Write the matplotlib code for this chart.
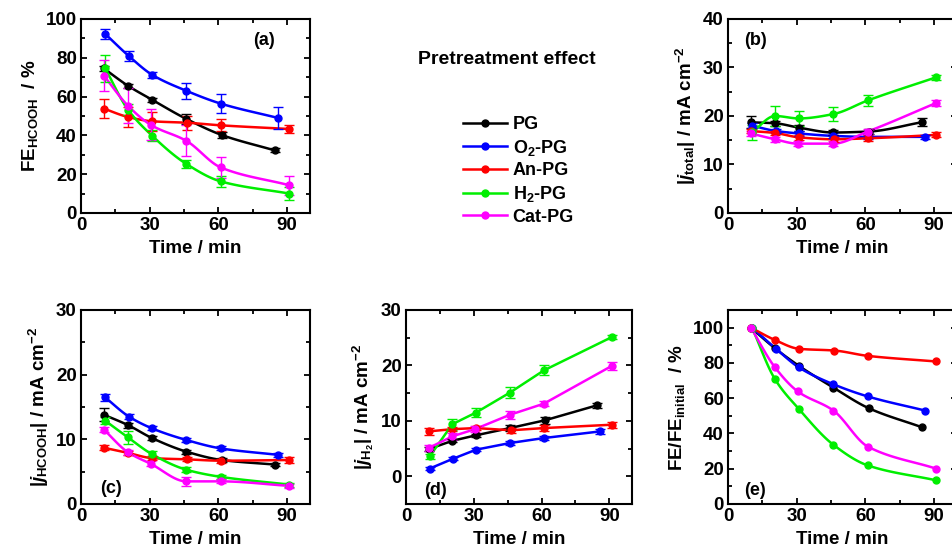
import numpy as np
import matplotlib
matplotlib.use("Agg")
import matplotlib.pyplot as plt
from matplotlib.lines import Line2D
from matplotlib.ticker import MultipleLocator

plt.rcParams['font.family'] = ['Liberation Sans', 'DejaVu Sans']
plt.rcParams['font.weight'] = 'bold'
plt.rcParams['mathtext.fontset'] = 'custom'
plt.rcParams['mathtext.rm'] = 'Liberation Sans:bold'
plt.rcParams['mathtext.bf'] = 'Liberation Sans:bold'
plt.rcParams['mathtext.it'] = 'Liberation Sans:bold:italic'
plt.rcParams['axes.linewidth'] = 1.5

# ---------------- data ----------------
labels = ['PG', 'O$_2$-PG', 'An-PG', 'H$_2$-PG', 'Cat-PG']
colors = ['#000000', '#0000FF', '#FF0000', '#00EE00', '#FF00FF']

t_PG = [10, 20.5, 31, 46, 61.5, 84.5]
t_O2 = [10.5, 21, 31, 46, 61, 86]
t_An = [10, 20.5, 31, 46.5, 61, 91]
t_H2 = [10.5, 20.5, 31, 46, 61, 91]
t_Cat = [10, 20.5, 30.5, 46, 61, 91]
times = [t_PG, t_O2, t_An, t_H2, t_Cat]

# (a) FE_HCOOH / %
fe_PG = [74.5, 65.6, 58.4, 48.5, 40.2, 32.3]
fe_O2 = [92.4, 80.8, 71.3, 63.0, 56.4, 49.0]
fe_An = [53.8, 49.5, 47.3, 46.5, 45.2, 43.3]
fe_H2 = [74.7, 53.3, 39.9, 25.3, 16.3, 10.0]
fe_Cat = [70.8, 55.3, 45.4, 37.2, 23.5, 14.3]
fe_err_PG = [1.5, 1.0, 1.0, 2.5, 1.5, 1.0]
fe_err_O2 = [2.5, 2.5, 1.5, 4.0, 5.0, 5.5]
fe_err_An = [5.0, 5.0, 5.0, 3.5, 3.0, 2.0]
fe_err_H2 = [7.0, 3.0, 3.0, 2.0, 3.0, 3.5]
fe_err_Cat = [8.0, 9.0, 8.0, 8.0, 5.5, 5.0]

# (b) |j_total| / mA cm-2
jt_PG = [18.7, 18.5, 17.6, 16.6, 16.8, 18.7]
jt_O2 = [18.0, 16.9, 16.4, 15.9, 15.7, 15.7]
jt_An = [16.9, 16.5, 15.6, 15.2, 15.4, 16.1]
jt_H2 = [16.6, 20.0, 19.5, 20.4, 23.2, 28.0]
jt_Cat = [16.4, 15.2, 14.3, 14.3, 16.8, 22.7]
jt_err_PG = [1.2, 0.5, 0.6, 0.5, 0.5, 0.8]
jt_err_O2 = [0.5, 0.5, 0.5, 0.5, 0.5, 0.4]
jt_err_An = [0.5, 0.5, 0.5, 0.5, 0.6, 0.5]
jt_err_H2 = [1.5, 2.0, 1.5, 1.4, 1.2, 0.5]
jt_err_Cat = [0.6, 0.5, 0.5, 0.5, 0.5, 0.7]

# (c) |j_HCOOH| / mA cm-2
jf_PG = [13.8, 12.2, 10.2, 8.1, 6.8, 6.1]
jf_O2 = [16.5, 13.5, 11.7, 9.9, 8.6, 7.6]
jf_An = [8.7, 7.9, 7.1, 6.9, 6.7, 6.8]
jf_H2 = [12.9, 10.3, 7.7, 5.3, 4.2, 3.0]
jf_Cat = [11.5, 8.0, 6.2, 3.5, 3.5, 2.8]
jf_err_PG = [1.0, 0.4, 0.3, 0.3, 0.3, 0.3]
jf_err_O2 = [0.5, 0.4, 0.3, 0.3, 0.3, 0.3]
jf_err_An = [0.4, 0.3, 0.3, 0.3, 0.3, 0.4]
jf_err_H2 = [0.6, 1.0, 0.5, 0.4, 0.3, 0.3]
jf_err_Cat = [0.4, 0.4, 0.4, 0.7, 0.3, 0.3]

# (d) |j_H2| / mA cm-2
jh_PG = [4.9, 6.4, 7.4, 8.7, 10.1, 12.8]
jh_O2 = [1.4, 3.2, 4.8, 6.0, 6.9, 8.1]
jh_An = [8.1, 8.5, 8.7, 8.3, 8.7, 9.3]
jh_H2 = [3.6, 9.4, 11.5, 15.1, 19.1, 25.1]
jh_Cat = [5.1, 7.2, 8.5, 11.1, 13.1, 19.9]
jh_err_PG = [0.4, 0.3, 0.3, 0.5, 0.6, 0.5]
jh_err_O2 = [0.3, 0.3, 0.3, 0.3, 0.3, 0.4]
jh_err_An = [0.6, 0.4, 0.4, 0.5, 0.5, 0.5]
jh_err_H2 = [0.5, 1.0, 0.8, 1.0, 0.9, 0.4]
jh_err_Cat = [0.5, 0.6, 0.5, 0.7, 0.5, 0.8]

# (e) FE/FE_initial / %
fr_PG = [100, 88.3, 78.3, 66.0, 54.3, 43.6]
fr_O2 = [100, 88.0, 77.4, 67.9, 61.0, 53.0]
fr_An = [100, 93.0, 88.0, 87.0, 84.0, 80.8]
fr_H2 = [100, 70.8, 53.8, 33.6, 21.9, 13.4]
fr_Cat = [100, 77.5, 63.8, 53.0, 32.6, 20.0]


def smooth_line(x, y, n=120):
    """Shape-preserving (PCHIP) curve through the data points, for line rendering."""
    x = np.asarray(x, float)
    y = np.asarray(y, float)
    h = np.diff(x)
    d = np.diff(y) / h
    m = np.zeros_like(y)
    for k in range(1, len(x) - 1):
        if d[k - 1] * d[k] > 0:
            w1 = 2 * h[k] + h[k - 1]
            w2 = h[k] + 2 * h[k - 1]
            m[k] = (w1 + w2) / (w1 / d[k - 1] + w2 / d[k])
    m[0] = d[0]
    m[-1] = d[-1]
    xs = np.linspace(x[0], x[-1], n)
    idx = np.clip(np.searchsorted(x, xs) - 1, 0, len(x) - 2)
    hk = h[idx]
    t = (xs - x[idx]) / hk
    h00 = 2 * t**3 - 3 * t**2 + 1
    h10 = t**3 - 2 * t**2 + t
    h01 = -2 * t**3 + 3 * t**2
    h11 = t**3 - t**2
    ys = h00 * y[idx] + h10 * hk * m[idx] + h01 * y[idx + 1] + h11 * hk * m[idx + 1]
    return xs, ys


fig = plt.figure(figsize=(9.53, 5.59), dpi=100)

axw = 229 / 953
axh = 194 / 559
ax_a = fig.add_axes([81 / 953, 1 - 213 / 559, axw, axh])
ax_b = fig.add_axes([728 / 953, 1 - 213 / 559, axw, axh])
ax_c = fig.add_axes([81 / 953, 1 - 504 / 559, axw, axh])
ax_d = fig.add_axes([406 / 953, 1 - 504 / 559, 226 / 953, axh])
ax_e = fig.add_axes([728 / 953, 1 - 504 / 559, axw, axh])

panels = [
    (ax_a, [fe_PG, fe_O2, fe_An, fe_H2, fe_Cat],
     [fe_err_PG, fe_err_O2, fe_err_An, fe_err_H2, fe_err_Cat], True,
     (0, 100), 20, 10, r'FE$_{\rm HCOOH}$  / %', '(a)', (0.80, 0.89)),
    (ax_b, [jt_PG, jt_O2, jt_An, jt_H2, jt_Cat],
     [jt_err_PG, jt_err_O2, jt_err_An, jt_err_H2, jt_err_Cat], True,
     (0, 40), 10, 5, r'|$j_{\rm total}$| / mA cm$^{-2}$', '(b)', (0.12, 0.89)),
    (ax_c, [jf_PG, jf_O2, jf_An, jf_H2, jf_Cat],
     [jf_err_PG, jf_err_O2, jf_err_An, jf_err_H2, jf_err_Cat], True,
     (0, 30), 10, 5, r'|$j_{\rm HCOOH}$| / mA cm$^{-2}$', '(c)', (0.13, 0.08)),
    (ax_d, [jh_PG, jh_O2, jh_An, jh_H2, jh_Cat],
     [jh_err_PG, jh_err_O2, jh_err_An, jh_err_H2, jh_err_Cat], False,
     (-5, 30), 10, 5, r'|$j_{\rm H_2}$| / mA cm$^{-2}$', '(d)', (0.13, 0.07)),
    (ax_e, [fr_PG, fr_O2, fr_An, fr_H2, fr_Cat],
     None, True,
     (0, 110), 20, 10, r'FE/FE$_{\rm initial}$  / %', '(e)', (0.12, 0.07)),
]

for ax, ys, errs, smooth, ylim, ymaj, ymin, ylab, tag, tagpos in panels:
    for i in range(5):
        t = times[i]
        y = ys[i]
        c = colors[i]
        if smooth:
            xs, yy = smooth_line(t, y)
        else:
            xs, yy = t, y
        ax.plot(xs, yy, color=c, lw=1.8, zorder=2)
        if errs is not None:
            ax.errorbar(t, y, yerr=errs[i], fmt='none', ecolor=c, elinewidth=1.0,
                        capsize=3.5, capthick=1.0, zorder=3)
        ax.plot(t, y, 'o', color=c, ms=5, mec=c, zorder=4)
    ax.set_xlim(0, 100)
    ax.set_ylim(*ylim)
    ax.xaxis.set_major_locator(MultipleLocator(30))
    ax.xaxis.set_minor_locator(MultipleLocator(15))
    ax.yaxis.set_major_locator(MultipleLocator(ymaj))
    ax.yaxis.set_minor_locator(MultipleLocator(ymin))
    ax.tick_params(which='both', direction='in', top=True, right=True, width=1.3,
                   labelsize=13.5, pad=3)
    ax.tick_params(which='major', length=4.5)
    ax.tick_params(which='minor', length=3)
    ax.set_xlabel('Time / min', fontsize=13.5, fontweight='bold', labelpad=4)
    ax.set_ylabel(ylab, fontsize=13.5, fontweight='bold', labelpad=4)
    ax.text(tagpos[0], tagpos[1], tag, transform=ax.transAxes, fontsize=13,
            fontweight='bold', ha='center', va='center')
    for lab in ax.get_xticklabels() + ax.get_yticklabels():
        lab.set_fontweight('bold')

fig.text(507 / 953, 1 - 60 / 559, 'Pretreatment effect', fontsize=14,
         fontweight='bold', ha='center', va='center')

handles = [Line2D([0], [0], color=colors[i], lw=1.8, marker='o', ms=5)
           for i in range(5)]
fig.legend(handles, labels, loc='upper left', bbox_to_anchor=(463 / 953, 1 - 116 / 559),
           frameon=False, handlelength=2.45, handletextpad=0.3,
           labelspacing=0.26, borderpad=0, borderaxespad=0,
           prop={'weight': 'bold', 'size': 13})

fig.savefig('out.png', dpi=100)
